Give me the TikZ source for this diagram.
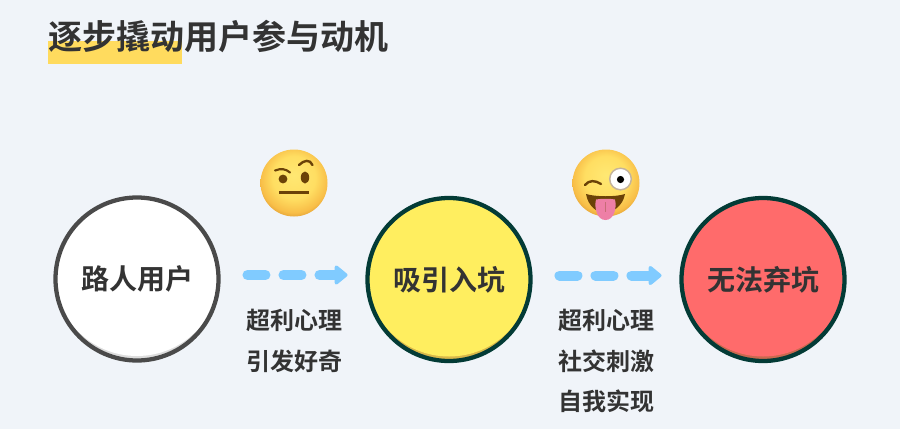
\documentclass[tikz,border=0pt]{standalone}
\usepackage{fontspec}
\usetikzlibrary{arrows.meta}
\setmainfont{Noto Sans CJK SC}[BoldFont={Noto Sans CJK SC Bold}]
\definecolor{bgc}{HTML}{F0F4F9}
\definecolor{ink}{HTML}{333333}
\definecolor{hl}{HTML}{FFDB5E}
\definecolor{flowc}{HTML}{80CBFF}
\definecolor{darkring}{HTML}{033B36}
\definecolor{greyring}{HTML}{4A4A4A}
\definecolor{yel}{HTML}{FFEE5F}
\definecolor{yelS}{HTML}{D9B84A}
\definecolor{redf}{HTML}{FF6B6B}
\definecolor{redS}{HTML}{C9694F}
\definecolor{whiteS}{HTML}{DDDDDD}
\definecolor{brow}{HTML}{6B4208}
\definecolor{tongue}{HTML}{EE7FA6}
\definecolor{fa}{HTML}{FFE873}
\definecolor{fb}{HTML}{FFDE62}
\definecolor{fc}{HTML}{F8BE48}
\definecolor{fd}{HTML}{D6902C}
\pgfdeclareradialshading{facey}{\pgfpoint{0bp}{6bp}}{%
  color(0bp)=(fa);
  color(16bp)=(fb);
  color(25bp)=(fc);
  color(31bp)=(fd);
  color(50bp)=(fd)}
\tikzset{
  x=0.75pt,y=-0.75pt,
  titletext/.style={font=\fontsize{25.5pt}{28pt}\selectfont\bfseries,text=ink,anchor=west,inner sep=0pt},
  nodelabel/.style={font=\fontsize{21pt}{24pt}\selectfont\bfseries,text=ink},
  captext/.style={font=\fontsize{18pt}{22pt}\selectfont\bfseries,text=ink,inner sep=0pt},
  ringnode/.style={circle,minimum size=122pt,inner sep=0pt,line width=3.2pt,nodelabel},
  flow/.style={draw=flowc,line width=7.5pt,line cap=round,dash pattern=on 13.5pt off 13.5pt,
     -{Triangle[length=10.5pt,width=16.5pt,round]},flowc},
  face/.style={shading=facey},
}
\begin{document}
\begin{tikzpicture}
\useasboundingbox (0,0) rectangle (900,429);
\fill[bgc] (0,0) rectangle (900,429);
% title
\fill[hl] (48,41) rectangle (182,64);
\node[titletext] (title) at (48,36) {逐步撬动用户参与动机};
% circles
\node[ringnode,fill=white] (a) at (137,279) {};
\begin{scope}
  \clip (137,279) circle (81);
  \fill[whiteS] (137,279) circle (82);
  \fill[white] (137,273) circle (83);
\end{scope}
\draw[greyring,line width=3.2pt] (137,279) circle (81.5);
\node[nodelabel] (at) at (a) {路人用户};
\node[ringnode,fill=yel] (b) at (449,279.5) {};
\begin{scope}
  \clip (449,279.5) circle (81);
  \fill[yelS] (449,279.5) circle (82);
  \fill[yel] (449,273.5) circle (83);
\end{scope}
\draw[darkring,line width=3.2pt] (449,279.5) circle (81.5);
\node[nodelabel] (bt) at (b) {吸引入坑};
\node[ringnode,fill=redf] (c) at (763,279.5) {};
\begin{scope}
  \clip (763,279.5) circle (81);
  \fill[redS] (763,279.5) circle (82);
  \fill[redf] (763,273.5) circle (83);
\end{scope}
\draw[darkring,line width=3.2pt] (763,279.5) circle (81.5);
\node[nodelabel] (ct) at (c) {无法弃坑};
% arrows
\draw[flow,shorten <=20.25pt,shorten >=13.5pt] ([yshift=3pt]a.east) -- ([yshift=3pt]a.east -| b.west);
\draw[flow,shorten <=20.25pt,shorten >=13.5pt] ([yshift=3pt]b.east) -- ([yshift=3pt]b.east -| c.west);
% captions
\node[captext] (t1) at (294.5,320) {超利心理};
\node[captext] (t2) at (294.5,361) {引发好奇};
\node[captext] (t3) at (606.5,320) {超利心理};
\node[captext] (t4) at (606.5,361) {社交刺激};
\node[captext] (t5) at (606.5,401) {自我实现};
% emoji 1
\shade[face] (294,183) circle (33.5);
\draw[brow,line width=1.6pt,line cap=round] (275,170.5) .. controls (281,168) and (286,169) .. (290,172.5);
\draw[brow,line width=1.8pt,line cap=round] (299,165) .. controls (304,160) and (310,159) .. (312.5,165);
\fill[brow] (283,179) circle (4.4);
\fill[brow] (305,177.5) ellipse (4.2 and 6);
\draw[brow,line width=2.4pt] (279,192.5) -- (309,192.5);
% emoji 2
\shade[face] (606,183) circle (33.5);
\draw[brow,line width=1.8pt,line cap=round] (585,185) .. controls (589,180) and (595,180) .. (601,184);
\fill[white,draw=brow!40,line width=1.1pt] (620.5,179) circle (10.8);
\fill[black] (620.5,179.5) circle (3.6);
\fill[brow] (586,194) .. controls (596,197) and (616,197) .. (625,194)
  .. controls (623,206) and (612,213) .. (605,213) .. controls (597,213) and (588,206) .. (586,194) -- cycle;
\fill[tongue] (596,199.5) .. controls (602,198.5) and (610,198.5) .. (615,199.5)
  .. controls (617,208) and (614,220) .. (605.5,220) .. controls (597,220) and (594,208) .. (596,199.5) -- cycle;
\draw[brow!30!tongue,line width=0.6pt] (605.5,202) -- (605.5,212);
\end{tikzpicture}
\end{document}
